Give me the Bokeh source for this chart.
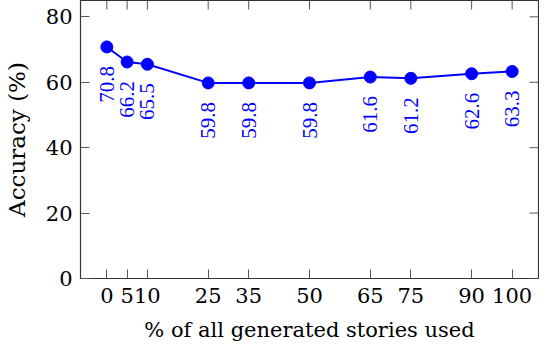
import math
from bokeh.plotting import figure
from bokeh.models import FixedTicker, ColumnDataSource
from bokeh.embed import file_html
from bokeh.resources import INLINE

# data
pct_used = [0, 5, 10, 25, 35, 50, 65, 75, 90, 100]
accuracy = [70.8, 66.2, 65.5, 59.8, 59.8, 59.8, 61.6, 61.2, 62.6, 63.3]
y_ticks = [0, 20, 40, 60, 80]
x_label = "% of all generated stories used"
y_label = "Accuracy (%)"

X_MIN, X_MAX = -6.5, 106.5
Y_MIN, Y_MAX = 0, 85

FONT = "DejaVu Serif"
FS = "21px"
BLUE = "#0000ff"
TICK = "#555555"
TICK_LEN = 9

src = ColumnDataSource(dict(x=pct_used, y=accuracy,
                            lab=["%.1f" % v for v in accuracy]))

p = figure(frame_width=458, frame_height=278, x_range=(X_MIN, X_MAX), y_range=(Y_MIN, Y_MAX),
           output_backend="svg", toolbar_location=None,
           min_border_left=80, min_border_right=1, min_border_top=0, min_border_bottom=64)
p.grid.visible = False
p.outline_line_color = "#333333"
p.outline_line_width = 1.2
p.background_fill_color = "white"
p.border_fill_color = "white"

for ax in (p.xaxis[0], p.yaxis[0]):
    ax.axis_line_color = None
    ax.major_tick_in = TICK_LEN
    ax.major_tick_out = 0
    ax.minor_tick_line_color = None
    ax.major_tick_line_color = TICK
    ax.major_tick_line_width = 1
    ax.major_label_text_font = FONT
    ax.major_label_text_font_size = FS
    ax.major_label_text_color = "black"
    ax.axis_label_text_font = FONT
    ax.axis_label_text_font_style = "normal"
    ax.axis_label_text_font_size = FS
    ax.axis_label_text_color = "black"

p.xaxis.ticker = FixedTicker(ticks=pct_used)
p.yaxis.ticker = FixedTicker(ticks=y_ticks)
p.xaxis.axis_label = x_label
p.yaxis.axis_label = y_label
p.yaxis.axis_label_text_font_size = "23px"
p.xaxis.major_label_standoff = 9
p.yaxis.major_label_standoff = 8
p.xaxis.axis_label_standoff = 12
p.yaxis.axis_label_standoff = 13

# mirrored inward ticks on the top and right edges
p.ray(x=pct_used, y=[Y_MAX] * len(pct_used), length=TICK_LEN, length_units="screen",
      angle=-math.pi / 2, line_color=TICK, line_width=1)
p.ray(x=[X_MAX] * len(y_ticks), y=y_ticks, length=TICK_LEN, length_units="screen",
      angle=math.pi, line_color=TICK, line_width=1)

p.line("x", "y", source=src, line_color=BLUE, line_width=2)
p.scatter("x", "y", source=src, size=12, fill_color=BLUE, line_color=BLUE)
p.text("x", "y", text="lab", source=src, angle=math.pi / 2,
       text_align="right", text_baseline="middle", y_offset=19,
       text_font=FONT, text_font_size=FS, text_color=BLUE)

open("out.html", "w").write(file_html(p, INLINE))
